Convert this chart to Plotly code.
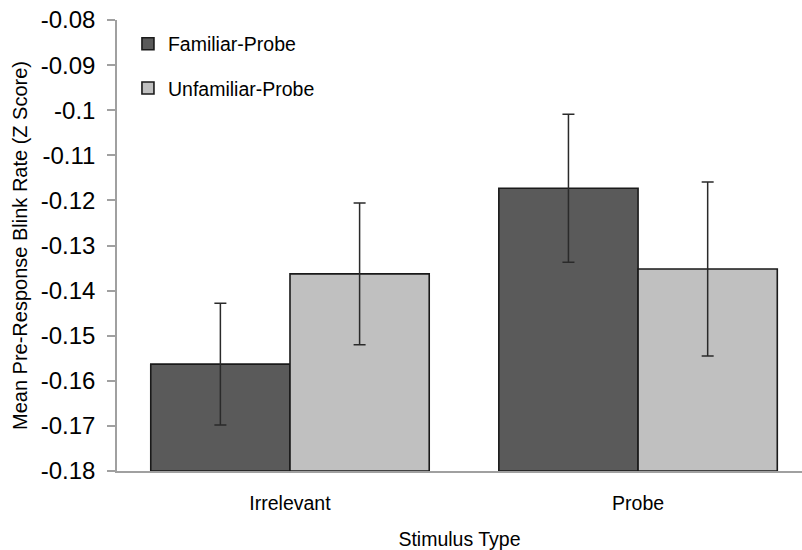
import plotly.graph_objects as go

categories = ["Irrelevant", "Probe"]
familiar_mean = [-0.1563, -0.1173]
familiar_err = [0.0135, 0.0164]
unfamiliar_mean = [-0.1363, -0.1352]
unfamiliar_err = [0.0157, 0.0193]
series_names = ["Familiar-Probe", "Unfamiliar-Probe"]
y_tick_vals = [-0.18, -0.17, -0.16, -0.15, -0.14, -0.13, -0.12, -0.11, -0.10, -0.09, -0.08]
y_tick_text = ["-0.18", "-0.17", "-0.16", "-0.15", "-0.14", "-0.13", "-0.12", "-0.11", "-0.1", "-0.09", "-0.08"]

BASE = -0.18
FONT = "Liberation Sans, Arial, Helvetica, sans-serif"

fig = go.Figure()
for name, means, errs, color, grp in [
    (series_names[0], familiar_mean, familiar_err, "#5a5a5a", "a"),
    (series_names[1], unfamiliar_mean, unfamiliar_err, "#c0c0c0", "b"),
]:
    fig.add_trace(go.Bar(
        x=categories,
        y=[m - BASE for m in means],
        base=BASE,
        name=name,
        legendgroup=grp,
        marker=dict(color=color, line=dict(color="#1a1a1a", width=1.6)),
        error_y=dict(type="data", array=errs, visible=True,
                     color="#2a2a2a", thickness=1.5, width=6),
    ))

fig.update_layout(
    width=802, height=550,
    margin=dict(l=117, r=0, t=20, b=79),
    paper_bgcolor="white", plot_bgcolor="white",
    barmode="group", bargap=0.2, bargroupgap=0,
    font=dict(family=FONT, color="black", size=19),
    showlegend=True,
    legend=dict(x=0.016, y=0.99, xanchor="left", yanchor="top",
                traceorder="grouped", tracegroupgap=16,
                font=dict(size=19.5, family=FONT), bgcolor="rgba(0,0,0,0)"),
    xaxis=dict(
        range=[-0.497, 1.471],
        showline=True, linecolor="#a0a0a0", linewidth=1.5,
        ticks="", tickfont=dict(size=19.5),
        ticklabelstandoff=14,
        title=dict(text="Stimulus Type", font=dict(size=19.5), standoff=20),
        showgrid=False, zeroline=False, fixedrange=True,
    ),
    yaxis=dict(
        range=[-0.18, -0.08],
        tickvals=y_tick_vals, ticktext=y_tick_text,
        showline=True, linecolor="#a0a0a0", linewidth=1.5,
        ticks="outside", ticklen=8, tickcolor="#a0a0a0", tickwidth=1.5,
        tickfont=dict(size=24),
        ticklabelstandoff=7,
        title=dict(text="Mean Pre-Response Blink Rate (Z Score)", font=dict(size=20), standoff=8),
        showgrid=False, zeroline=False, fixedrange=True,
    ),
)

fig.write_html("out.html")
